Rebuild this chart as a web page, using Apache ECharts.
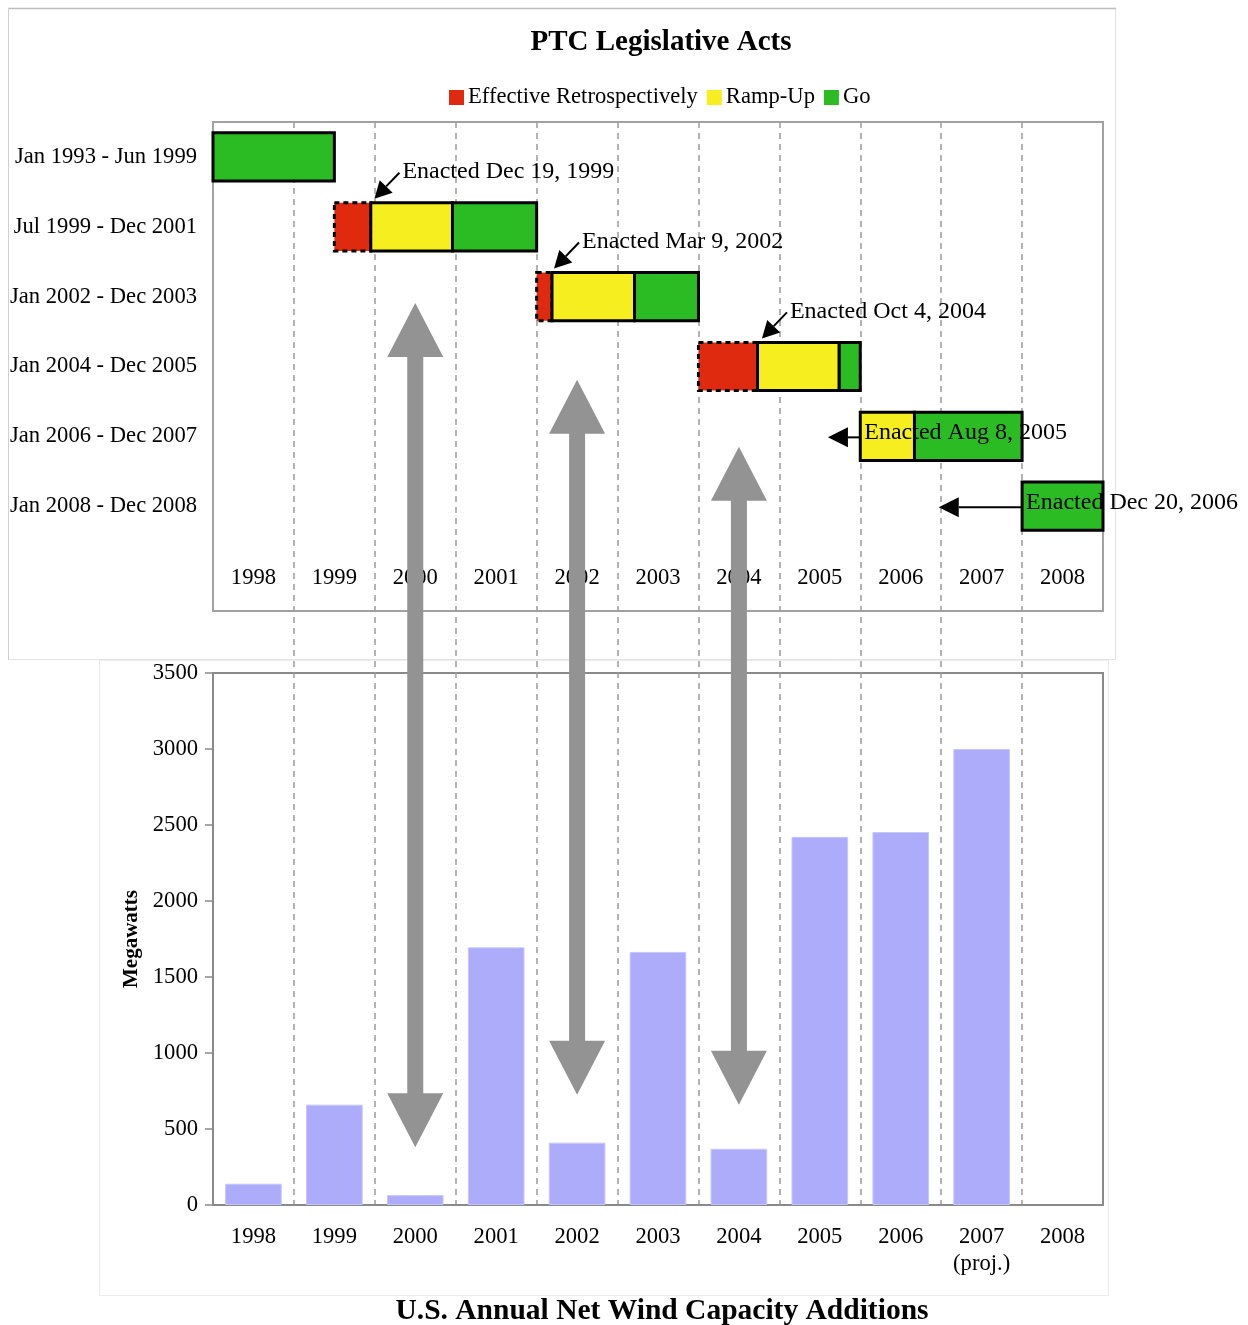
<!DOCTYPE html>
<html><head><meta charset="utf-8">
<script src="https://cdn.jsdelivr.net/npm/echarts@6/dist/echarts.min.js"></script>
<style>html,body{margin:0;padding:0;background:#fff}#c{width:1248px;height:1325px}</style>
</head><body><div id="c"></div>
<script>
// ---------- DATA ----------
const years = ['1998','1999','2000','2001','2002','2003','2004','2005','2006','2007','2008'];
const yearLabelsBottom = ['1998','1999','2000','2001','2002','2003','2004','2005','2006','2007\n(proj.)','2008'];
const periods = ['Jan 1993 - Jun 1999','Jul 1999 - Dec 2001','Jan 2002 - Dec 2003','Jan 2004 - Dec 2005','Jan 2006 - Dec 2007','Jan 2008 - Dec 2008'];
// segments: [row, start, end] (decimal years)
const retroSegments = [[1,1999.5,1999.95],[2,2002.0,2002.19],[3,2004.0,2004.73]];
const rampSegments  = [[1,1999.95,2000.96],[2,2002.19,2003.21],[3,2004.73,2005.74],[4,2006.0,2006.67]];
const goSegments    = [[0,1993.0,1999.5],[1,2000.96,2002.0],[2,2003.21,2004.0],[3,2005.74,2006.0],[4,2006.67,2008.0],[5,2008.0,2009.0]];
// enactments: [row, period start, enactment date]
const enactments = [[1,1999.5,1999.97],[2,2002.0,2002.19],[3,2004.0,2004.76],[4,2006.0,2005.60],[5,2008.0,2006.97]];
const enactLabels = ['Enacted Dec 19, 1999','Enacted Mar 9, 2002','Enacted Oct 4, 2004','Enacted Aug 8, 2005','Enacted Dec 20, 2006'];
// annual net wind capacity additions (MW)
const capacityMW = [140,660,65,1695,410,1665,370,2422,2454,3000,null];
// big grey arrows: [year, top end on PTC row scale, bottom end in MW]
const bigArrowYears = ['2000','2002','2004'];
const bigArrowTopRow = [2.09,3.19,4.15];
const bigArrowBottomMW = [380,725,660];

// ---------- STYLE ----------
const FF = '"Liberation Serif", "Times New Roman", serif';
const RED = '#e02a10', YEL = '#f6ee1e', GRN = '#2abc22';

function segRender(fill, dashed) {
  return function (params, api) {
    const row = api.value(0), s = api.value(1), e = api.value(2);
    const p1 = api.coord([s, row]), p2 = api.coord([e, row]);
    const h = api.size([0, 1])[1] * 0.69;
    const cs = params.coordSys;
    const rect = echarts.graphic.clipRectByRect(
      {x: p1[0], y: p1[1] - h / 2, width: p2[0] - p1[0], height: h},
      {x: cs.x, y: cs.y, width: cs.width, height: cs.height});
    if (!rect) return;
    return {type: 'rect', shape: rect,
      style: {fill: fill, stroke: '#000', lineWidth: 3, lineDash: dashed ? [5, 4] : null}};
  };
}

function enactRender(params, api) {
  const row = api.value(0), start = api.value(1), enact = api.value(2);
  const label = enactLabels[params.dataIndex];
  const c = api.coord([enact, row]);
  const sPt = api.coord([start, row]);
  const h = api.size([0, 1])[1] * 0.69;
  const children = [];
  const font = {fill: '#000', fontSize: 24, fontFamily: FF, align: 'left', verticalAlign: 'middle'};
  if (enact >= start) {
    const tip = [c[0] + 2, c[1] - h / 2 - 4];
    const tail = [tip[0] + 25, tip[1] - 26];
    const dx = tail[0] - tip[0], dy = tail[1] - tip[1];
    const L = Math.sqrt(dx * dx + dy * dy), ux = dx / L, uy = dy / L;
    const hl = 17, hw = 9;
    const bx = tip[0] + ux * hl, by = tip[1] + uy * hl;
    children.push({type: 'line', shape: {x1: tail[0], y1: tail[1], x2: bx, y2: by}, style: {stroke: '#000', lineWidth: 2}});
    children.push({type: 'polygon', shape: {points: [tip, [bx - uy * hw, by + ux * hw], [bx + uy * hw, by - ux * hw]]}, style: {fill: '#000'}});
    children.push({type: 'text', style: Object.assign({text: label, x: tail[0] + 3, y: tail[1] - 1}, font)});
  } else {
    const y = c[1] + 1;
    const tipX = c[0], baseX = tipX + 20;
    children.push({type: 'line', shape: {x1: sPt[0], y1: y, x2: baseX, y2: y}, style: {stroke: '#000', lineWidth: 2}});
    children.push({type: 'polygon', shape: {points: [[tipX, y], [baseX, y - 10], [baseX, y + 10]]}, style: {fill: '#000'}});
    children.push({type: 'text', style: Object.assign({text: label, x: sPt[0] + 4, y: c[1] - 4}, font)});
  }
  return {type: 'group', children: children};
}

const chart = echarts.init(document.getElementById('c'), null, {renderer: 'canvas'});
const txt = {color: '#000', fontFamily: FF, fontSize: 22.6};

const option = {
  animation: false,
  backgroundColor: '#fff',
  title: [
    {text: 'PTC Legislative Acts', left: 661, textAlign: 'center', top: 28, padding: 0,
     textStyle: {fontFamily: FF, fontSize: 29, fontWeight: 'bold', color: '#000'}},
    {text: 'U.S. Annual Net Wind Capacity Additions', left: 662, textAlign: 'center', top: 1296, padding: 0,
     textStyle: {fontFamily: FF, fontSize: 29.5, fontWeight: 'bold', color: '#000'}}
  ],
  legend: {
    left: 449, top: 86, padding: 0, itemGap: 9, itemWidth: 15, itemHeight: 15, icon: 'rect',
    selectedMode: false, itemStyle: {borderWidth: 0},
    textStyle: {fontFamily: FF, fontSize: 22.6, color: '#000', padding: [0, 0, 0, -1]},
    data: ['Effective Retrospectively', 'Ramp-Up', 'Go']
  },
  grid: [
    {left: 213, top: 122, width: 890, height: 489, show: true, borderColor: '#a2a2a2', borderWidth: 2, backgroundColor: 'transparent'},
    {left: 213, top: 673, width: 890, height: 532, show: true, borderColor: '#8a8a8a', borderWidth: 2, backgroundColor: 'transparent'},
    {left: 213, top: 122, width: 890, height: 1083, show: false}
  ],
  xAxis: [
    {gridIndex: 0, type: 'value', min: 1998, max: 2009, show: false},
    {gridIndex: 0, type: 'category', data: years, position: 'bottom',
     axisLine: {show: false}, axisTick: {show: false}, splitLine: {show: false},
     axisLabel: Object.assign({inside: true, margin: 21}, txt)},
    {gridIndex: 1, type: 'category', data: yearLabelsBottom,
     axisLine: {show: true, lineStyle: {color: '#8a8a8a', width: 2}}, axisTick: {show: false}, splitLine: {show: false},
     axisLabel: Object.assign({margin: 19, lineHeight: 27}, txt)},
    {gridIndex: 2, type: 'category', data: years,
     axisLine: {show: false}, axisTick: {show: false}, axisLabel: {show: false},
     splitLine: {show: true, showMinLine: false, showMaxLine: false, interval: 0,
       lineStyle: {color: '#9a9a9a', width: 1.5, type: [6, 5]}}}
  ],
  yAxis: [
    {gridIndex: 0, type: 'category', inverse: true, data: periods.concat(['']),
     axisLine: {show: false}, axisTick: {show: false}, splitLine: {show: false},
     axisLabel: Object.assign({margin: 16}, txt)},
    {gridIndex: 0, type: 'value', inverse: true, min: -0.5, max: 6.5, show: false},
    {gridIndex: 1, type: 'value', min: 0, max: 3500, interval: 500,
     name: 'Megawatts', nameLocation: 'middle', nameGap: 71,
     nameTextStyle: {fontFamily: FF, fontSize: 21, fontWeight: 'bold', color: '#000'},
     axisLine: {show: true, lineStyle: {color: '#8a8a8a', width: 2}},
     axisTick: {show: true, length: 8, lineStyle: {color: '#8a8a8a', width: 1.5}},
     splitLine: {show: false},
     axisLabel: Object.assign({margin: 15, formatter: function (v) { return String(v); }}, txt)},
    {gridIndex: 2, type: 'value', show: false}
  ],
  series: [
    {name: 'Effective Retrospectively', type: 'custom', xAxisIndex: 0, yAxisIndex: 1,
     itemStyle: {color: RED}, renderItem: segRender(RED, true), data: retroSegments, encode: {x: [1, 2], y: 0}},
    {name: 'Ramp-Up', type: 'custom', xAxisIndex: 0, yAxisIndex: 1,
     itemStyle: {color: YEL}, renderItem: segRender(YEL, false), data: rampSegments, encode: {x: [1, 2], y: 0}},
    {name: 'Go', type: 'custom', xAxisIndex: 0, yAxisIndex: 1,
     itemStyle: {color: GRN}, renderItem: segRender(GRN, false), data: goSegments, encode: {x: [1, 2], y: 0}},
    {name: 'Enactment', type: 'custom', xAxisIndex: 0, yAxisIndex: 1,
     renderItem: enactRender, data: enactments, encode: {x: [1, 2], y: 0}, z: 5},
    {name: 'Capacity', type: 'bar', xAxisIndex: 2, yAxisIndex: 2, data: capacityMW,
     barCategoryGap: '30%', itemStyle: {color: '#acacfa', borderColor: '#c6c6ff', borderWidth: 1}}
  ]
};
chart.setOption(option);

// big grey double arrows linking PTC periods to capacity bars
const arrowGraphics = [
  {type: 'rect', shape: {x: 8.5, y: 8.5, width: 1107, height: 651}, style: {fill: 'none', stroke: '#e2e2e2', lineWidth: 1}, z: -10},
  {type: 'line', shape: {x1: 8, y1: 8.5, x2: 1116, y2: 8.5}, style: {stroke: '#bdbdbd', lineWidth: 1.5}, z: -10},
  {type: 'line', shape: {x1: 8.5, y1: 8, x2: 8.5, y2: 660}, style: {stroke: '#d0d0d0', lineWidth: 1}, z: -10},
  {type: 'rect', shape: {x: 99.5, y: 660.5, width: 1009, height: 635}, style: {fill: 'none', stroke: '#ececec', lineWidth: 1}, z: -10}
];
bigArrowYears.forEach(function (yr, i) {
  const x = chart.convertToPixel({xAxisIndex: 2}, yr);
  const yT = chart.convertToPixel({yAxisIndex: 1}, bigArrowTopRow[i]);
  const yB = chart.convertToPixel({yAxisIndex: 2}, bigArrowBottomMW[i]);
  const hl = 54, hw = 28, sw = 8;
  arrowGraphics.push({type: 'polygon', z: 100, shape: {points: [
    [x, yT], [x + hw, yT + hl], [x + sw, yT + hl], [x + sw, yB - hl], [x + hw, yB - hl],
    [x, yB], [x - hw, yB - hl], [x - sw, yB - hl], [x - sw, yT + hl], [x - hw, yT + hl]]},
    style: {fill: '#939393'}});
});
chart.setOption({graphic: arrowGraphics});
</script></body></html>
